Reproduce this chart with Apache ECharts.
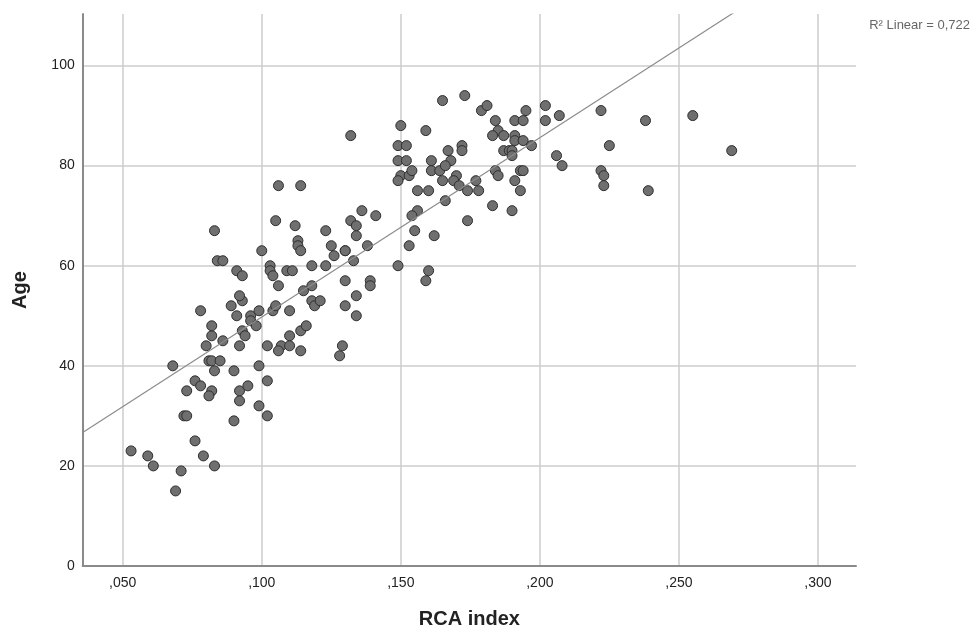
<!DOCTYPE html>
<html>
<head>
<meta charset="utf-8">
<script src="https://cdn.jsdelivr.net/npm/echarts@6/dist/echarts.min.js"></script>
<style>
html,body{margin:0;padding:0;background:#fff;}
#chart{width:977px;height:634px;}
</style>
</head>
<body>
<div id="chart"></div>
<script>
// RCA index (x) and Age (y)
const rcaIndex = [
  0.053,0.059,0.061,0.071,0.069,0.076,0.079,0.083,0.068,0.072,
  0.073,0.073,0.076,0.078,0.082,0.081,0.090,0.092,0.092,0.095,
  0.099,0.102,0.102,0.099,0.081,0.082,0.085,0.083,0.090,0.080,
  0.082,0.086,0.082,0.092,0.093,0.094,0.078,0.089,0.093,0.092,
  0.091,0.096,0.099,0.096,0.098,0.104,0.105,0.110,0.102,0.107,
  0.106,0.110,0.110,0.114,0.116,0.114,0.129,0.128,
  0.083,0.105,0.112,0.113,0.113,0.114,0.100,0.084,0.086,0.091,
  0.093,0.103,0.103,0.104,0.106,0.109,0.111,0.106,0.114,0.123,
  0.125,0.126,0.130,0.130,0.132,0.134,0.134,0.136,0.141,0.138,
  0.133,0.149,0.118,0.123,0.130,0.139,0.139,0.134,0.130,0.134,
  0.118,0.115,0.118,0.119,0.121,0.153,0.162,0.160,0.159,
  0.132,0.165,0.173,0.179,0.181,0.150,0.159,0.149,0.152,0.149,
  0.152,0.150,0.149,0.153,0.154,0.156,0.160,0.161,0.161,0.164,
  0.167,0.168,0.166,0.165,0.170,0.169,0.171,0.174,0.172,0.172,
  0.166,0.156,0.154,0.155,0.174,0.177,0.178,0.184,0.185,0.183,
  0.187,0.191,0.194,0.195,0.191,0.191,0.194,0.197,0.187,0.189,
  0.190,0.190,0.184,0.185,0.191,0.193,0.193,0.194,0.183,0.190,
  0.202,0.202,0.207,0.206,0.208,0.222,0.238,0.225,0.222,0.223,
  0.223,0.239,0.255,0.269
];
const age = [
  23,22,20,19,15,25,22,20,40,30,
  30,35,37,36,35,34,29,35,33,36,
  32,30,37,40,41,41,41,39,39,44,
  46,45,48,44,47,46,51,52,53,54,
  50,50,51,49,48,51,52,51,44,44,
  43,46,44,47,48,43,44,42,
  67,69,68,65,64,63,63,61,61,59,
  58,60,59,58,56,59,59,76,76,67,
  64,62,63,63,69,68,66,71,70,64,
  61,60,60,60,57,57,56,54,52,50,
  56,55,53,52,53,64,66,59,57,
  86,93,94,91,92,88,87,84,84,81,
  81,78,77,78,79,75,75,81,79,79,
  83,81,80,77,78,77,76,75,84,83,
  73,71,70,67,69,77,75,89,87,86,
  86,89,89,91,86,85,85,84,83,83,
  83,82,79,78,77,75,79,79,72,71,
  92,89,90,82,80,91,89,84,79,78,
  76,75,90,83
];
// Linear fit shown in the reference
const fitIntercept = 13.9;
const fitSlope = 358.4;
const fitLabel = 'R\u00B2 Linear = 0,722';
const xRange = [0.0356, 0.3137];
const yRange = [0, 110.3];

const points = rcaIndex.map((x, i) => [x, age[i]]);
const fitPoints = [xRange[0], xRange[1]].map(x => [x, fitIntercept + fitSlope * x]);

const FONT = '"Liberation Sans", Arial, sans-serif';
const chart = echarts.init(document.getElementById('chart'), null, {renderer: 'canvas'});
chart.setOption({
  animation: false,
  backgroundColor: '#ffffff',
  textStyle: {fontFamily: FONT},
  title: {
    text: fitLabel,
    right: 2, top: 14,
    textStyle: {fontFamily: FONT, fontSize: 13, fontWeight: 'normal', color: '#666'}
  },
  grid: {left: 82.7, right: 121, top: 14, bottom: 65, containLabel: false},
  xAxis: {
    type: 'value',
    min: xRange[0], max: xRange[1],
    splitNumber: 5,
    name: 'RCA index',
    nameLocation: 'middle',
    nameGap: 43,
    nameTextStyle: {fontFamily: FONT, fontSize: 20, fontWeight: 'bold', color: '#222'},
    axisLine: {show: true, lineStyle: {color: '#8a8a8a', width: 2}},
    axisTick: {show: false},
    axisLabel: {
      margin: 10, fontSize: 14, color: '#222', fontFamily: FONT,
      showMinLabel: false, showMaxLabel: false,
      formatter: v => ',' + v.toFixed(3).split('.')[1]
    },
    splitLine: {show: true, showMinLine: false, showMaxLine: false, lineStyle: {color: '#cdcdcd', width: 1.5}}
  },
  yAxis: {
    type: 'value',
    min: yRange[0], max: yRange[1],
    interval: 20,
    name: 'Age',
    nameLocation: 'middle',
    nameGap: 52,
    nameTextStyle: {fontFamily: FONT, fontSize: 20, fontWeight: 'bold', color: '#222'},
    axisLine: {show: true, lineStyle: {color: '#8a8a8a', width: 2}},
    axisTick: {show: false},
    axisLabel: {
      margin: 8, fontSize: 14, color: '#222', fontFamily: FONT,
      showMaxLabel: false,
      formatter: v => (v > 105 ? '' : String(v))
    },
    splitLine: {show: true, showMinLine: false, showMaxLine: false, lineStyle: {color: '#cdcdcd', width: 1.5}}
  },
  series: [
    {
      type: 'scatter',
      data: points,
      symbol: 'circle',
      symbolSize: 10,
      itemStyle: {color: '#6f6f6f', borderColor: '#2e2e2e', borderWidth: 1, opacity: 1},
      silent: true,
      z: 2
    },
    {
      type: 'line',
      data: fitPoints,
      showSymbol: false,
      symbol: 'none',
      clip: true,
      lineStyle: {color: '#8c8c8c', width: 1.2},
      silent: true,
      z: 3
    }
  ]
});
</script>
</body>
</html>
